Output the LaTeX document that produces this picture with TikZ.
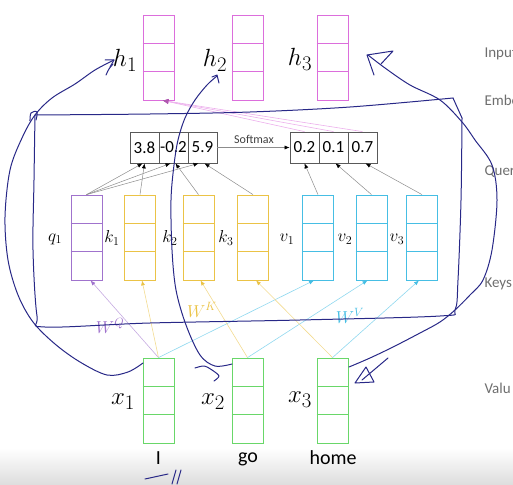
\documentclass[tikz,border=0pt]{standalone}
\usepackage{fontspec}
\setmainfont{Carlito}
\usetikzlibrary{calc,arrows.meta}
\definecolor{hmag}{RGB}{220,110,220}
\definecolor{qpur}{RGB}{160,115,205}
\definecolor{kyel}{RGB}{235,195,70}
\definecolor{vcyn}{RGB}{70,190,228}
\definecolor{xgrn}{RGB}{105,215,105}
\definecolor{ink}{RGB}{40,40,135}
\definecolor{sidegray}{RGB}{110,110,110}
\tikzset{
  vec/.style={draw=#1, line width=0.8pt, minimum width=31, minimum height=85, inner sep=0pt},
  cell/.style={draw=black!65, line width=0.8pt, minimum width=29, minimum height=31, inner sep=0pt, font=\fontsize{17}{17}\selectfont},
  biglab/.style={font=\fontsize{24.88}{26}\selectfont},
  smalllab/.style={font=\fontsize{17.28}{18}\selectfont},
  wlab/.style={text=#1, font=\fontsize{17.28}{18}\selectfont},
  sidelab/.style={text=sidegray, anchor=west, font=\fontsize{15}{15}\selectfont},
  gar/.style={draw=black!45, line width=0.5pt, -{Latex[length=5pt,width=4pt,black]}},
  proj/.style={draw=#1!60, line width=0.6pt, -{Latex[length=5pt,width=4pt,#1]}},
  mline/.style={draw=hmag!55, line width=0.6pt, -{Latex[length=6pt,width=5pt,hmag!80!black]}},
  pen/.style={draw=ink, line width=1pt, line cap=round, line join=round}
}
\begin{document}
\begin{tikzpicture}[x=1pt,y=-1pt]
  \useasboundingbox (0,0) rectangle (513,484);
  \clip (0,0) rectangle (513,484);
  \shade[top color=white, bottom color=black!13] (0,448) rectangle (513,484);

  \node[vec=hmag] (h1) at (158.5,57.5) {};
  \node[vec=hmag] (h2) at (247.5,57.5) {};
  \node[vec=hmag] (h3) at (332.5,57.5) {};
  \node[vec=qpur] (q1) at (86.5,237.5) {};
  \node[vec=kyel] (k1) at (140,237.5) {};
  \node[vec=kyel] (k2) at (198.5,237.5) {};
  \node[vec=kyel] (k3) at (253,237.5) {};
  \node[vec=vcyn] (v1) at (318,237.5) {};
  \node[vec=vcyn] (v2) at (371.5,237.5) {};
  \node[vec=vcyn] (v3) at (422,237.5) {};
  \node[vec=xgrn] (x1) at (158.5,400.5) {};
  \node[vec=xgrn] (x2) at (247.5,400.5) {};
  \node[vec=xgrn] (x3) at (332.5,400.5) {};
  \foreach \n/\c in {h1/hmag,h2/hmag,h3/hmag,q1/qpur,k1/kyel,k2/kyel,k3/kyel,v1/vcyn,v2/vcyn,v3/vcyn,x1/xgrn,x2/xgrn,x3/xgrn}{
    \draw[\c, line width=0.8pt] ($(\n.north west)!1/3!(\n.south west)$) -- ($(\n.north east)!1/3!(\n.south east)$);
    \draw[\c, line width=0.8pt] ($(\n.north west)!2/3!(\n.south west)$) -- ($(\n.north east)!2/3!(\n.south east)$);
  }

  \node[biglab] (lh1) at (125,60) {$h_1$};
  \node[biglab] (lh2) at (215,60) {$h_2$};
  \node[biglab] (lh3) at (300,59) {$h_3$};
  \node[smalllab] (lq1) at (55,239) {$q_1$};
  \node[smalllab] (lk1) at (112,238) {$k_1$};
  \node[smalllab] (lk2) at (170,238) {$k_2$};
  \node[smalllab] (lk3) at (226,238) {$k_3$};
  \node[smalllab] (lv1) at (287,239) {$v_1$};
  \node[smalllab] (lv2) at (345,239) {$v_2$};
  \node[smalllab] (lv3) at (397,239) {$v_3$};
  \node[biglab] (lx1) at (123,402) {$x_1$};
  \node[biglab] (lx2) at (213,402) {$x_2$};
  \node[biglab] (lx3) at (300,400) {$x_3$};
  \node[font=\fontsize{20}{20}\selectfont] (wI) at (158.5,458) {I};
  \node[font=\fontsize{20}{20}\selectfont] (wgo) at (248,459) {go};
  \node[font=\fontsize{20}{20}\selectfont] (whome) at (333,458) {home};

  \node[cell] (s1) at (144.5,147.5) {3.8};
  \node[cell] (s2) at (173.5,147.5) {-0.2};
  \node[cell] (s3) at (202.5,147.5) {5.9};
  \node[cell] (p1) at (304.5,147.5) {0.2};
  \node[cell] (p2) at (333.5,147.5) {0.1};
  \node[cell] (p3) at (362.5,147.5) {0.7};
  \node[text=black!75, font=\fontsize{12}{12}\selectfont] (smx) at (254,139) {Softmax};
  \draw[gar] (s3.east) -- (p1.west);

  \draw[gar] (q1.north) -- ([xshift=-2pt]s1.south);
  \draw[gar] (q1.north) -- ([xshift=-3pt]s2.south);
  \draw[gar] (q1.north) -- ([xshift=-4pt]s3.south);
  \draw[gar] (k1.north) -- (s1.south);
  \draw[gar] (k2.north) -- ([xshift=2pt]s2.south);
  \draw[gar] (k3.north) -- ([xshift=2pt]s3.south);
  \draw[gar] (v1.north) -- (p1.south);
  \draw[gar] (v2.north) -- ([xshift=2pt]p2.south);
  \draw[gar] (v3.north) -- ([xshift=3pt]p3.south);

  \draw[mline] (p1.north) -- ([xshift=4pt]h1.south);
  \draw[mline] (p2.north) -- ([xshift=4pt]h1.south);
  \draw[mline] (p3.north) -- ([xshift=4pt]h1.south);

  \draw[proj=qpur] (x1.north) -- ([xshift=4pt]q1.south);
  \draw[proj=kyel] (x1.north) -- ([xshift=2pt]k1.south);
  \draw[proj=vcyn] (x1.north) -- ([xshift=-4pt]v1.south);
  \draw[proj=kyel] (x2.north) -- ([xshift=2pt]k2.south);
  \draw[proj=vcyn] (x2.north) -- ([xshift=-4pt]v2.south);
  \draw[proj=kyel] (x3.north) -- ([xshift=3pt]k3.south);
  \draw[proj=vcyn] (x3.north) -- ([xshift=-3pt]v3.south);
  \node[wlab=qpur] (wq) at (110,326) {$W^Q$};
  \node[wlab=kyel] (wk) at (202,310) {$W^K$};
  \node[wlab=vcyn] (wv) at (350,316) {$W^V$};

  \node[sidelab] (tin) at (481,54) {Input};
  \node[sidelab] (tem) at (481,100) {Embe};
  \node[sidelab] (tqu) at (481,172) {Quer};
  \node[sidelab] (tke) at (481,284) {Keys};
  \node[sidelab] (tva) at (481,388) {Valu};

  \draw[pen] plot[smooth, tension=0.55] coordinates {(35,115) (150,114) (250,112) (350,107) (453,98)};
  \draw[pen] (453,98) -- (462,118);
  \draw[pen] plot[smooth, tension=0.55] coordinates {(462,118) (461,200) (458,280) (455,310) (440,316) (300,320) (150,323) (45,327) (37,316) (33,250) (34,180) (35,115)};
  \draw[pen] plot[smooth, tension=0.6] coordinates {(30,121) (31,113) (37,112) (36,120)};
  \draw[pen] plot[smooth, tension=0.55] coordinates {(143,363) (128,372) (107,375) (80,362) (55,344) (33,322) (18,295) (8,260) (5,217) (10,170) (22,138) (35,115) (52,98) (75,84) (95,70) (114,60)};
  \draw[pen] (105,60) -- (114,60) -- (110,67);
  \draw[pen] plot[smooth] coordinates {(106,75) (109,69) (113,64)};
  \draw[pen] plot[smooth, tension=0.55] coordinates {(232,364) (215,366) (200,355) (186,325) (176,290) (172,250) (171,200) (174,165) (178,140) (185,118) (195,100) (207,85) (217,76)};
  \draw[pen] (212,77) -- (217,75) -- (219,83);
  \draw[pen] plot[smooth] coordinates {(195,368) (204,366) (212,370) (219,376) (214,381)};
  \draw[pen] plot[smooth, tension=0.55] coordinates {(349,367) (370,358) (393,347) (420,333) (440,322) (455,310) (470,295) (483,280) (492,250) (497,200) (492,165) (475,140) (462,122) (440,100) (410,85) (385,68) (368,55)};
  \draw[pen] (374,75) -- (367,55) -- (393,51) -- (381,64);
  \draw[pen] (355,383) -- (366,367) -- (374,382) -- cycle;
  \draw[pen] (388,358) -- (362,380);
  \draw[pen] (145,479) -- (168,474);
  \draw[pen] (172,484) -- (176,470);
  \draw[pen] (177,484) -- (181,470);
\end{tikzpicture}
\end{document}
